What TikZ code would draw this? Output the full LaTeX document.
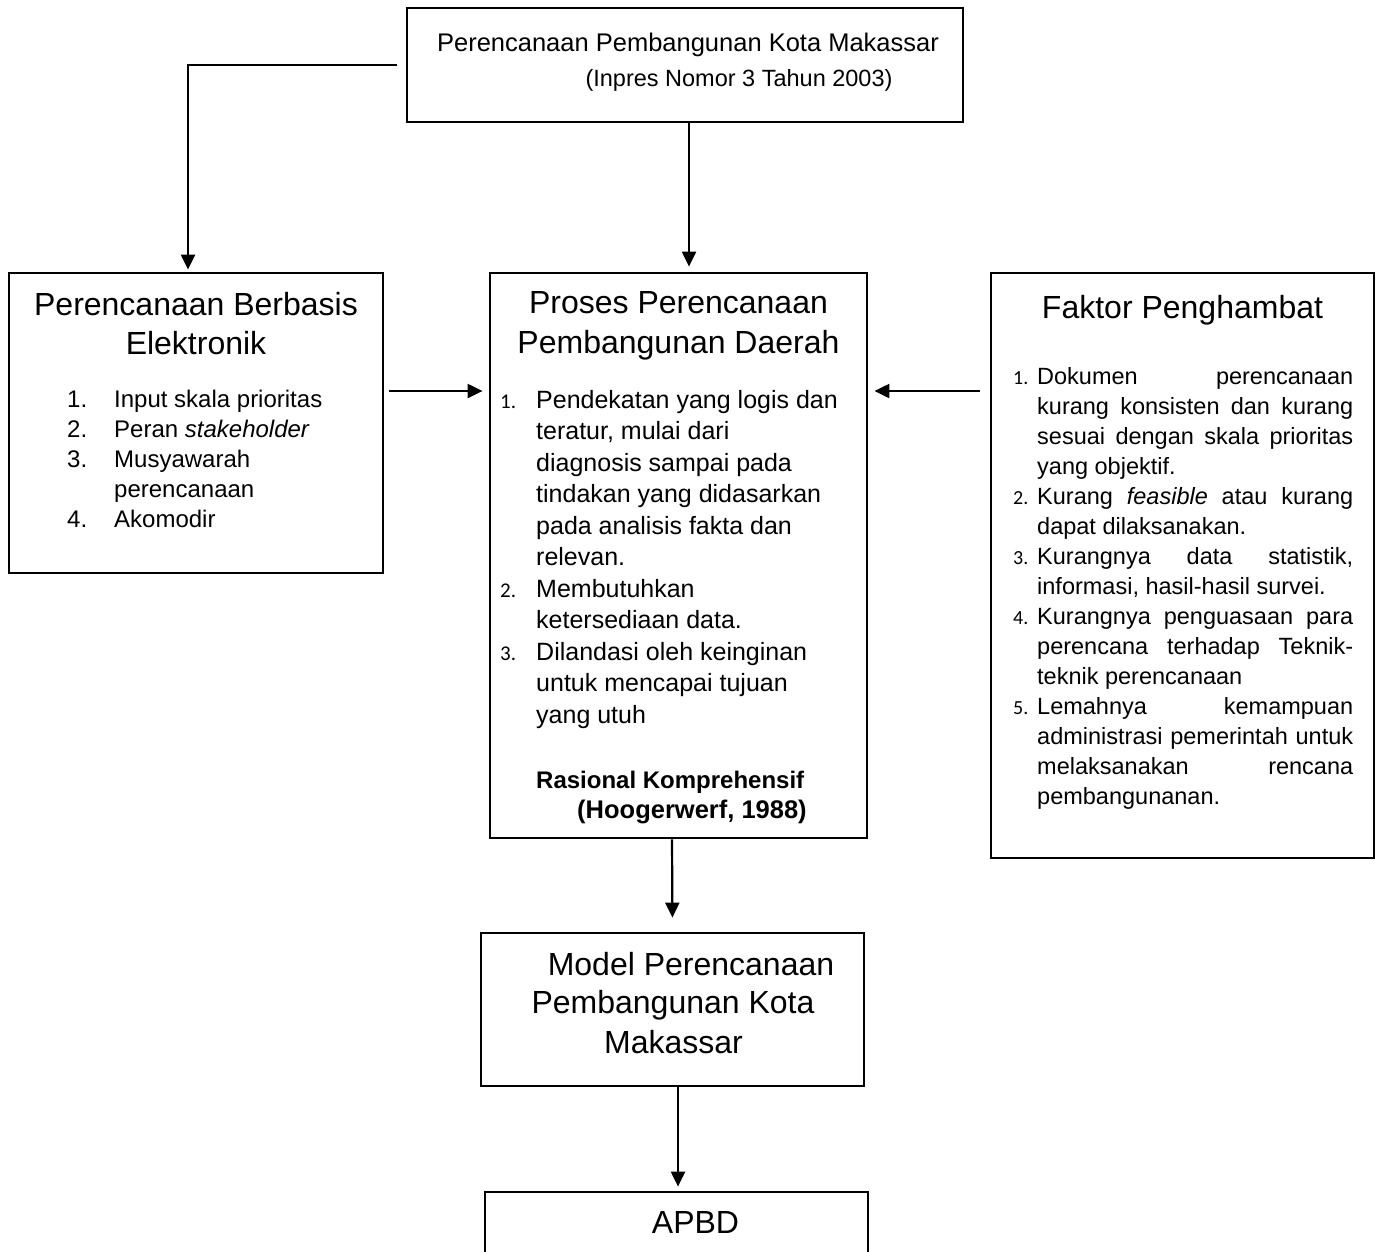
\documentclass[tikz,border=0pt]{standalone}
\usepackage{fontspec}
\setmainfont{Liberation Sans}
\newfontfamily\numfont{Carlito}
\usetikzlibrary{arrows.meta}
\tikzset{
  box/.style={draw, line width=2.8pt, inner sep=0pt},
  conn/.style={line width=2.2pt, -{Triangle[length=15pt,width=14pt]}},
  txt/.style={inner sep=0pt, anchor=base west},
  ctxt/.style={inner sep=0pt, anchor=base},
  ttl/.style={font=\fontsize{32}{40}\selectfont},
  ltx/.style={txt, font=\fontsize{24}{30}\selectfont},
  mtx/.style={txt, font=\fontsize{25}{31}\selectfont},
  mnum/.style={txt, font=\numfont\fontsize{21}{26}\selectfont},
  rtx/.style={txt, font=\fontsize{23.5}{30}\selectfont},
  rnum/.style={txt, font=\numfont\fontsize{20}{26}\selectfont},
}
\newcommand{\jl}[1]{\makebox[316pt][s]{#1}}
\begin{document}
\begin{tikzpicture}[x=1pt,y=-1pt]
\useasboundingbox (0,0) rectangle (1381,1251);
\fill[white] (0,0) rectangle (1381,1251);

% boxes
\node[box, minimum width=556pt, minimum height=114pt] (top) at (685,65) {};
\node[box, minimum width=374pt, minimum height=300pt] (left) at (196,423) {};
\node[box, minimum width=377pt, minimum height=565pt] (mid) at (678.5,555.5) {};
\node[box, minimum width=383pt, minimum height=585pt] (right) at (1182.5,565.5) {};
\node[box, minimum width=383pt, minimum height=153pt] (model) at (672.5,1009.5) {};
\node[box, minimum width=383pt, minimum height=160pt] (apbd) at (676.5,1272) {};

% top box text
\node[ctxt, font=\fontsize{25.5}{30}\selectfont] (t1) at (688,51) {Perencanaan Pembangunan Kota Makassar};
\node[ctxt, font=\fontsize{23.5}{28}\selectfont] (t2) at (739,86) {(Inpres Nomor 3 Tahun 2003)};

% left box text
\node[ctxt, ttl] (l1) at (196,315) {Perencanaan Berbasis};
\node[ctxt, ttl] (l2) at (196,354) {Elektronik};
\node[ltx] (ln1) at (67,407) {1.};
\node[ltx] (ln2) at (67,437) {2.};
\node[ltx] (ln3) at (67,467) {3.};
\node[ltx] (ln4) at (67,527) {4.};
\node[ltx] (la1) at (114,407) {Input skala prioritas};
\node[ltx] (la2) at (114,437) {Peran \textit{stakeholder}};
\node[ltx] (la3) at (114,467) {Musyawarah};
\node[ltx] (la4) at (114,497) {perencanaan};
\node[ltx] (la5) at (114,527) {Akomodir};

% middle box text
\node[ctxt, ttl] (m1) at (678.5,313) {Proses Perencanaan};
\node[ctxt, ttl] (m2) at (678.5,353) {Pembangunan Daerah};
\node[mnum] (mn1) at (500,408) {1.};
\node[mnum] (mn2) at (500,597) {2.};
\node[mnum] (mn3) at (500,660) {3.};
\node[mtx] (ma1) at (536,408) {Pendekatan yang logis dan};
\node[mtx] (ma2) at (536,439.5) {teratur, mulai dari};
\node[mtx] (ma3) at (536,471) {diagnosis sampai pada};
\node[mtx] (ma4) at (536,502.5) {tindakan yang didasarkan};
\node[mtx] (ma5) at (536,534) {pada analisis fakta dan};
\node[mtx] (ma6) at (536,565.5) {relevan.};
\node[mtx] (ma7) at (536,597) {Membutuhkan};
\node[mtx] (ma8) at (536,628.5) {ketersediaan data.};
\node[mtx] (ma9) at (536,660) {Dilandasi oleh keinginan};
\node[mtx] (ma10) at (536,691.5) {untuk mencapai tujuan};
\node[mtx] (ma11) at (536,723) {yang utuh};
\node[txt, font=\bfseries\fontsize{24}{30}\selectfont] (mr) at (536,788) {Rasional Komprehensif};
\node[txt, font=\bfseries\fontsize{25.5}{30}\selectfont] (mh) at (577,818) {(Hoogerwerf, 1988)};

% right box text
\node[ctxt, ttl] (f1) at (1182.5,318) {Faktor Penghambat};
\node[rnum] (rn1) at (1013,384) {1.};
\node[rnum] (rn2) at (1013,504) {2.};
\node[rnum] (rn3) at (1013,564) {3.};
\node[rnum] (rn4) at (1013,624) {4.};
\node[rnum] (rn5) at (1013,714) {5.};
\node[rtx] (r1) at (1037,384) {\jl{Dokumen perencanaan}};
\node[rtx] (r2) at (1037,414) {\jl{kurang konsisten dan kurang}};
\node[rtx] (r3) at (1037,444) {\jl{sesuai dengan skala prioritas}};
\node[rtx] (r4) at (1037,474) {yang objektif.};
\node[rtx] (r5) at (1037,504) {\jl{Kurang \textit{feasible} atau kurang}};
\node[rtx] (r6) at (1037,534) {dapat dilaksanakan.};
\node[rtx] (r7) at (1037,564) {\jl{Kurangnya data statistik,}};
\node[rtx] (r8) at (1037,594) {informasi, hasil-hasil survei.};
\node[rtx] (r9) at (1037,624) {\jl{Kurangnya penguasaan para}};
\node[rtx] (r10) at (1037,654) {\jl{perencana terhadap Teknik-}};
\node[rtx] (r11) at (1037,684) {teknik perencanaan};
\node[rtx] (r12) at (1037,714) {\jl{Lemahnya kemampuan}};
\node[rtx] (r13) at (1037,744) {\jl{administrasi pemerintah untuk}};
\node[rtx] (r14) at (1037,774) {\jl{melaksanakan rencana}};
\node[rtx] (r15) at (1037,804) {pembangunanan.};

% model box text
\node[ctxt, ttl] (mo1) at (691,975) {Model Perencanaan};
\node[ctxt, ttl] (mo2) at (673,1013) {Pembangunan Kota};
\node[ctxt, ttl] (mo3) at (673.5,1053) {Makassar};

% apbd text
\node[ctxt, ttl] (ap) at (695.5,1233) {APBD};

% connectors
\coordinate (hy) at (0,391);
\draw[conn, shorten >=2pt] ([xshift=-9pt]top.west) -| ([xshift=-8pt]left.north);
\draw[conn, shorten >=5pt] ([xshift=4pt]top.south) -- ([xshift=10.5pt]mid.north);
\draw[conn] ([xshift=5pt]left.east |- hy) -- ([xshift=-6pt]mid.west |- hy);
\draw[conn] ([xshift=-10pt]right.west |- hy) -- ([xshift=6pt]mid.east |- hy);
\draw[conn, shorten >=14pt] ([xshift=-6.5pt]mid.south) -- (model.north);
\draw[conn, shorten >=4pt] ([xshift=5.5pt]model.south) -- ([xshift=1.5pt]apbd.north);
\end{tikzpicture}
\end{document}
